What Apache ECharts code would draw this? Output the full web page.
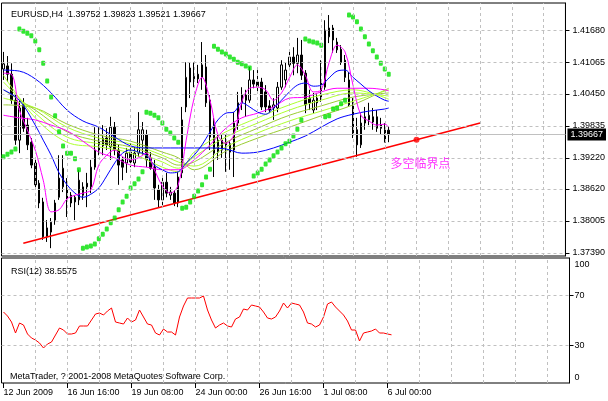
<!DOCTYPE html>
<html><head><meta charset="utf-8">
<script src="https://cdn.jsdelivr.net/npm/echarts@6/dist/echarts.min.js"></script>
<style>html,body{margin:0;padding:0;background:#fff}#c{width:608px;height:401px}</style>
</head><body><div id="c"></div>
<script>
// ---------- data ----------
const symbolName = 'EURUSD,H4';
const totalSlots = 142;
// [open, close, low, high]
const candles = [
[1.4093,1.4103,1.4072,1.4126],[1.4099,1.4083,1.4068,1.4118],[1.4083,1.4033,1.4026,1.4104],[1.4033,1.3956,1.3947,1.4043],
[1.3956,1.4018,1.3931,1.4033],[1.4024,1.3979,1.3972,1.4037],[1.3985,1.3947,1.3937,1.3999],[1.3952,1.3908,1.3902,1.3960],
[1.3912,1.3870,1.3860,1.3918],[1.3873,1.3835,1.3825,1.3879],[1.3837,1.3770,1.3764,1.3845],[1.3770,1.3787,1.3760,1.3802],
[1.3779,1.3798,1.3748,1.3806],[1.3802,1.3835,1.3793,1.3841],[1.3846,1.3883,1.3841,1.3927],[1.3866,1.3902,1.3856,1.3927],
[1.3864,1.3841,1.3808,1.3883],[1.3850,1.3835,1.3827,1.3856],[1.3837,1.3846,1.3802,1.3850],[1.3841,1.3879,1.3831,1.3899],
[1.3866,1.3850,1.3841,1.3875],[1.3873,1.3866,1.3827,1.3893],[1.3866,1.3904,1.3854,1.3918],[1.3904,1.3937,1.3899,1.3981],
[1.3937,1.3956,1.3927,1.3981],[1.3945,1.3960,1.3927,1.3985],[1.3960,1.3947,1.3937,1.3979],[1.3943,1.3981,1.3918,1.4001],
[1.3981,1.3937,1.3927,1.3991],[1.3937,1.3908,1.3870,1.3947],[1.3918,1.3904,1.3879,1.3924],[1.3912,1.3931,1.3893,1.3941],
[1.3933,1.3914,1.3904,1.3950],[1.3912,1.3931,1.3904,1.3943],[1.3931,1.3976,1.3924,1.4010],[1.3956,1.3976,1.3927,1.3991],
[1.3966,1.3918,1.3904,1.3976],[1.3922,1.3902,1.3899,1.3933],[1.3904,1.3864,1.3841,1.3918],[1.3860,1.3841,1.3827,1.3870],
[1.3841,1.3875,1.3831,1.3883],[1.3875,1.3854,1.3846,1.3893],[1.3850,1.3856,1.3841,1.3866],[1.3854,1.3835,1.3829,1.3860],
[1.3835,1.3885,1.3827,1.3895],[1.3893,1.3995,1.3883,1.4020],[1.4020,1.4077,1.4010,1.4106],[1.4068,1.4095,1.4037,1.4106],
[1.4074,1.4079,1.4058,1.4106],[1.4083,1.4074,1.4066,1.4101],[1.4077,1.4101,1.4053,1.4145],[1.4097,1.4028,1.4020,1.4120],
[1.4033,1.3962,1.3937,1.4043],[1.3985,1.3931,1.3885,1.3999],[1.3956,1.3933,1.3918,1.3966],[1.3937,1.3956,1.3922,1.3966],
[1.3956,1.3941,1.3895,1.3966],[1.3933,1.3949,1.3899,1.3956],[1.3937,1.3989,1.3885,1.4010],[1.3989,1.4028,1.3976,1.4049],
[1.4028,1.4043,1.4014,1.4058],[1.4043,1.4033,1.4001,1.4053],[1.4033,1.4072,1.4028,1.4097],[1.4072,1.4064,1.4056,1.4091],
[1.4068,1.4060,1.4047,1.4091],[1.4068,1.4020,1.4014,1.4076],[1.4049,1.4020,1.4010,1.4062],[1.4022,1.4014,1.4008,1.4033],
[1.4018,1.4024,1.3995,1.4037],[1.4018,1.4058,1.4010,1.4068],[1.4058,1.4101,1.4053,1.4110],[1.4072,1.4091,1.4058,1.4106],
[1.4101,1.4116,1.4091,1.4130],[1.4116,1.4104,1.4081,1.4135],[1.4104,1.4120,1.4085,1.4153],[1.4120,1.4081,1.4072,1.4149],
[1.4085,1.4024,1.4008,1.4091],[1.4037,1.4028,1.4014,1.4053],[1.4014,1.4033,1.4008,1.4047],[1.4037,1.4028,1.4014,1.4047],
[1.4039,1.4066,1.4030,1.4110],[1.4058,1.4168,1.4053,1.4187],[1.4155,1.4172,1.4143,1.4197],[1.4172,1.4149,1.4124,1.4178],
[1.4145,1.4130,1.4124,1.4153],[1.4131,1.4106,1.4101,1.4139],[1.4110,1.4077,1.4068,1.4120],[1.4072,1.4024,1.4020,1.4087],
[1.4028,1.3966,1.3960,1.4037],[1.3976,1.3947,1.3924,1.3999],[1.3947,1.3989,1.3941,1.4008],[1.3989,1.4001,1.3976,1.4020],
[1.3995,1.4004,1.3985,1.4028],[1.4001,1.3991,1.3976,1.4018],[1.4001,1.3979,1.3972,1.4014],[1.3985,1.3979,1.3966,1.3999],
[1.3952,1.3976,1.3952,1.3989],[1.39752,1.39667,1.39521,1.39823]
];
const sar = [
1.3924,1.3929,1.3933,1.3939,1.4170,1.4166,1.4162,1.4157,1.4147,1.4130,
1.4104,1.4070,1.4039,1.4003,1.3972,1.3945,1.3931,1.3931,1.3920,1.3899,
1.3748,1.3750,1.3752,1.3756,1.3766,1.3775,1.3785,1.3797,1.3806,1.3822,
1.3837,1.3848,1.3864,1.3872,1.3881,1.3895,1.4010,1.4008,1.4004,1.3999,
1.3989,1.3977,1.3970,1.3960,1.3952,1.3825,1.3827,1.3837,1.3848,1.3858,
1.3870,1.3885,1.3900,1.4137,1.4131,1.4126,1.4122,1.4116,1.4112,1.4106,
1.4103,1.4099,1.4095,1.3887,1.3893,1.3900,1.3910,1.3918,1.3926,1.3933,
1.3941,1.3949,1.3954,1.3964,1.3977,1.3995,1.4151,1.4147,1.4145,1.4143,
1.4139,1.4001,1.4003,1.4016,1.4018,1.4026,1.4033,1.4197,1.4193,1.4184,
1.4170,1.4155,1.4141,1.4128,1.4116,1.4104,1.4093,1.4083];
const rsi = [
56.8,53.6,48.8,40.0,48.0,46.4,39.2,36.0,34.4,32.0,
28.0,31.2,32.8,38.4,44.0,42.4,39.2,39.2,40.0,45.6,
45.6,45.6,50.4,55.2,56.0,54.4,57.6,60.0,48.8,48.0,
47.2,52.0,48.8,50.4,58.4,52.8,47.2,46.4,40.0,38.4,
43.2,40.8,40.8,38.4,52.8,61.6,68.0,68.0,68.0,68.0,
69.6,58.4,50.4,44.0,46.4,48.0,45.6,44.8,51.2,52.8,
59.2,58.4,62.4,61.6,60.8,56.8,52.0,51.2,52.8,57.6,
64.0,60.0,64.0,63.2,62.4,56.8,48.0,47.2,44.8,46.4,
52.8,63.2,64.8,60.8,57.6,54.4,49.6,42.4,42.4,33.6,
40.0,40.8,41.6,43.2,40.0,40.0,39.2,38.5575];
const rsiName = 'RSI(12)';
// moving averages: [bar, price]
const maPinkFast = [[0,1.4085],[2,1.4083],[4,1.4014],[6,1.3976],[8,1.3937],[10,1.3879],[12,1.3818],[14,1.3822],[16,1.3843],[18,1.3850],[20,1.3854],[22,1.3860],[24,1.3908],[26,1.3927],[28,1.3937],[30,1.3924],[32,1.3918],[34,1.3922],[36,1.3931],[38,1.3899],[40,1.3868],[42,1.3854],[44,1.3870],[46,1.3956],[48,1.4037],[50,1.4077],[52,1.4033],[54,1.3966],[56,1.3950],[58,1.3966],[60,1.4030],[62,1.4056],[64,1.4058],[66,1.4053],[68,1.4033],[70,1.4047],[72,1.4076],[74,1.4101],[76,1.4081],[78,1.4049],[80,1.4053],[82,1.4106],[84,1.4139],[86,1.4126],[88,1.4062],[90,1.4004],[92,1.3993],[94,1.3985],[96,1.3987],[97,1.3981]];
const maBlueFast = [[0,1.4053],[4,1.4033],[8,1.3985],[10,1.3956],[12,1.3927],[14,1.3893],[16,1.3870],[18,1.3854],[20,1.3846],[22,1.3852],[24,1.3864],[26,1.3887],[28,1.3912],[30,1.3931],[32,1.3937],[34,1.3933],[36,1.3927],[38,1.3908],[40,1.3899],[42,1.3893],[44,1.3895],[46,1.3912],[48,1.3927],[50,1.3947],[52,1.3972],[54,1.3995],[56,1.4008],[58,1.4010],[60,1.4028],[62,1.4020],[64,1.4010],[66,1.4006],[68,1.4018],[70,1.4033],[72,1.4049],[74,1.4062],[76,1.4066],[78,1.4060],[80,1.4062],[82,1.4076],[84,1.4089],[86,1.4091],[88,1.4077],[90,1.4064],[92,1.4051],[94,1.4041],[96,1.4033],[97,1.4031]];
const maBlueSlow = [[0,1.4091],[4,1.4089],[8,1.4074],[12,1.4047],[16,1.4014],[20,1.3993],[24,1.3981],[28,1.3962],[32,1.3945],[36,1.3941],[40,1.3941],[44,1.3941],[48,1.3941],[52,1.3941],[56,1.3939],[60,1.3931],[64,1.3933],[68,1.3941],[72,1.3952],[76,1.3964],[80,1.3981],[84,1.3997],[88,1.4006],[92,1.4012],[96,1.4016],[97,1.4018]];
const maPinkSlow = [[0,1.4004],[4,1.3999],[8,1.3995],[12,1.3985],[16,1.3974],[20,1.3954],[24,1.3933],[28,1.3922],[32,1.3908],[36,1.3904],[40,1.3899],[44,1.3899],[48,1.3918],[52,1.3947],[56,1.3979],[60,1.3999],[64,1.4008],[68,1.4020],[72,1.4037],[76,1.4039],[80,1.4049],[84,1.4056],[88,1.4056],[92,1.4056],[96,1.4053],[97,1.4051]];
const ygBars = [0,8,16,24,32,40,44,48,56,64,72,80,88,97];
const yg1 = [1.4081,1.3999,1.3952,1.3943,1.3931,1.3904,1.3895,1.3933,1.3972,1.3999,1.4024,1.4043,1.4053,1.4035];
const yg2 = [1.4068,1.4008,1.3962,1.3949,1.3937,1.3914,1.3902,1.3924,1.3962,1.3989,1.4014,1.4033,1.4047,1.4041];
const yg3 = [1.4053,1.4014,1.3972,1.3954,1.3943,1.3922,1.3908,1.3914,1.3952,1.3979,1.4004,1.4022,1.4039,1.4047];
const yg4 = [1.4037,1.4018,1.3981,1.3960,1.3949,1.3927,1.3914,1.3906,1.3943,1.3970,1.3993,1.4012,1.4031,1.4053];
const yg5 = [1.4024,1.4018,1.3987,1.3966,1.3954,1.3933,1.3922,1.3899,1.3935,1.3960,1.3981,1.4003,1.4024,1.4056];
const trendLine = [[5,1.37574],[120,1.39889]];
const criticalPoint = [[104,1.39567]];
const criticalLabel = '多空临界点';
const criticalLabelAt = [[104,1.3912]];
const priceTicks = [1.41680,1.41065,1.40450,1.39835,1.39220,1.38620,1.38005,1.37390];
const rsiTicks = [0,30,70,100];
const rsiLevels = [30,70];
const timeLabels = [[0,'12 Jun 2009'],[16,'16 Jun 16:00'],[32,'19 Jun 08:00'],[48,'24 Jun 00:00'],[64,'26 Jun 16:00'],[80,'1 Jul 08:00'],[96,'6 Jul 00:00']];
const gridEvery = 8;
const copyright = 'MetaTrader, ? 2001-2008 MetaQuotes Software Corp.';

// ---------- build ----------
const cats = Array.from({length: totalSlots}, (_, i) => String(i));
const labelMap = {}; timeLabels.forEach(([i, t]) => labelMap[i] = t);
const vGrid = []; for (let i = gridEvery; i < totalSlots; i += gridEvery) vGrid.push(i);
const last = candles[candles.length - 1];
const titleText = symbolName + '  ' + [last[0], last[3], last[2], last[1]].map(v => v.toFixed(5)).join(' ');
const currentPrice = last[1];
const FONT = 'Liberation Sans';
const txt = {fontFamily: FONT, fontSize: 9, color: '#000'};
const dash = {color: '#C0C0C0', type: [3, 3], width: 1};
const pairsFrom = (bars, vals) => bars.map((b, i) => [b, vals[i]]);

const xBase = {type: 'category', data: cats, boundaryGap: true,
  axisLine: {show: false}, axisTick: {show: false}, axisLabel: {show: false}, splitLine: {show: false}};

function maLine(name, data, color) {
  return {name, type: 'line', xAxisIndex: 0, yAxisIndex: 0, data, smooth: 0.35, showSymbol: false,
    symbol: 'none', lineStyle: {color, width: 1}, silent: true, z: 3};
}

const chart = echarts.init(document.getElementById('c'), null, {renderer: 'canvas'});
chart.setOption({
  animation: false,
  backgroundColor: '#fff',
  title: [
    {text: titleText, left: 6, top: 5, textStyle: {...txt, fontWeight: 'normal'}},
    {text: rsiName + ' ' + rsi[rsi.length - 1].toFixed(4), left: 6, top: 262, textStyle: {...txt, fontWeight: 'normal'}},
    {text: copyright, left: 5, top: 367, textStyle: {...txt, fontWeight: 'normal'}}
  ],
  grid: [
    {left: 1.5, top: 3, width: 568, height: 253, show: true, borderColor: '#000', borderWidth: 1},
    {left: 1.5, top: 258, width: 568, height: 125, show: true, borderColor: '#000', borderWidth: 1}
  ],
  xAxis: [
    {...xBase, gridIndex: 0},
    {...xBase, gridIndex: 1,
      axisTick: {show: true, alignWithLabel: true, interval: (i) => labelMap[i] !== undefined, length: 5, lineStyle: {color: '#000'}},
      axisLabel: {show: true, interval: (i) => labelMap[i] !== undefined, formatter: (v, i) => labelMap[i] || '',
        align: 'left', margin: 5, ...txt, hideOverlap: false}}
  ],
  yAxis: [
    {type: 'value', gridIndex: 0, position: 'right', min: 1.37329, max: 1.42202,
      axisLine: {show: true, lineStyle: {color: '#000'}},
      axisTick: {show: true, customValues: priceTicks, length: 4, lineStyle: {color: '#000'}},
      axisLabel: {customValues: priceTicks, formatter: v => Number(v).toFixed(5), margin: 7, ...txt},
      splitLine: {show: false}},
    {type: 'value', gridIndex: 1, position: 'right', min: 0, max: 100,
      axisLine: {show: true, lineStyle: {color: '#000'}},
      axisTick: {show: true, customValues: rsiLevels, length: 4, lineStyle: {color: '#000'}},
      axisLabel: {customValues: rsiTicks, margin: 5, ...txt,
        formatter: v => v === 100 ? '{dn|100}' : (v === 0 ? '{up|0}' : String(v)),
        rich: {dn: {...txt, padding: [13, 0, 0, 0]}, up: {...txt, padding: [0, 0, 10, 0]}}},
      splitLine: {show: false}}
  ],
  series: [
    {name: 'gridMain', type: 'line', xAxisIndex: 0, yAxisIndex: 0, data: [], silent: true, z: 1,
      markLine: {symbol: 'none', silent: true, animation: false, precision: 6, label: {show: false}, lineStyle: dash,
        data: [...priceTicks.map(v => ({yAxis: v})), ...vGrid.map(i => ({xAxis: i}))]}},
    {name: 'gridRsi', type: 'line', xAxisIndex: 1, yAxisIndex: 1, data: [], silent: true, z: 1,
      markLine: {symbol: 'none', silent: true, animation: false, precision: 6, label: {show: false}, lineStyle: dash,
        data: [...rsiLevels.map(v => ({yAxis: v})), ...vGrid.map(i => ({xAxis: i}))]}},
    {name: 'bidLine', type: 'line', xAxisIndex: 0, yAxisIndex: 0, data: [], silent: true, z: 1,
      markLine: {symbol: 'none', silent: true, animation: false, precision: 6,
        lineStyle: {color: '#C0C0C0', type: 'solid', width: 1},
        label: {show: true, position: 'end', distance: 2, formatter: () => currentPrice.toFixed(5),
          backgroundColor: '#000', color: '#fff', fontFamily: FONT, fontSize: 9, padding: [2, 3, 1, 3]},
        data: [{yAxis: currentPrice}]}},
    {name: 'price', type: 'candlestick', xAxisIndex: 0, yAxisIndex: 0, data: candles, barWidth: 2, z: 2,
      itemStyle: {color: '#fff', color0: '#000', borderColor: '#000', borderColor0: '#000', borderWidth: 1}},
    maLine('yg5', pairsFrom(ygBars, yg5), '#9ACD32'),
    maLine('yg4', pairsFrom(ygBars, yg4), '#ADFF2F'),
    maLine('yg3', pairsFrom(ygBars, yg3), '#9ACD32'),
    maLine('yg2', pairsFrom(ygBars, yg2), '#ADFF2F'),
    maLine('yg1', pairsFrom(ygBars, yg1), '#ADFF2F'),
    maLine('pinkSlow', maPinkSlow, '#FF00FF'),
    maLine('blueSlow', maBlueSlow, '#0000FF'),
    maLine('blueFast', maBlueFast, '#0000FF'),
    maLine('pinkFast', maPinkFast, '#FF00FF'),
    {name: 'sar', type: 'scatter', xAxisIndex: 0, yAxisIndex: 0, data: sar.map((v, i) => [i, v]),
      symbol: 'roundRect', symbolSize: [4, 5], itemStyle: {color: '#00E000'}, silent: true, z: 4},
    {name: 'trend', type: 'line', xAxisIndex: 0, yAxisIndex: 0, data: trendLine, showSymbol: false, symbol: 'none',
      lineStyle: {color: '#FF0000', width: 1.5}, silent: true, z: 4},
    {name: 'critical', type: 'scatter', xAxisIndex: 0, yAxisIndex: 0, data: criticalPoint, symbolSize: 6,
      itemStyle: {color: '#FF0000'}, silent: true, z: 5},
    {name: 'criticalText', type: 'scatter', xAxisIndex: 0, yAxisIndex: 0, data: criticalLabelAt, symbolSize: 0,
      label: {show: true, position: 'inside', offset: [4, 0], formatter: criticalLabel, color: '#FF00FF',
        fontFamily: 'Noto Sans CJK SC', fontSize: 12}, silent: true, z: 5},
    {name: 'rsi', type: 'line', xAxisIndex: 1, yAxisIndex: 1, data: rsi, showSymbol: false, symbol: 'none',
      lineStyle: {color: '#FF0000', width: 1}, silent: true, z: 3}
  ]
});
</script>
</body></html>
